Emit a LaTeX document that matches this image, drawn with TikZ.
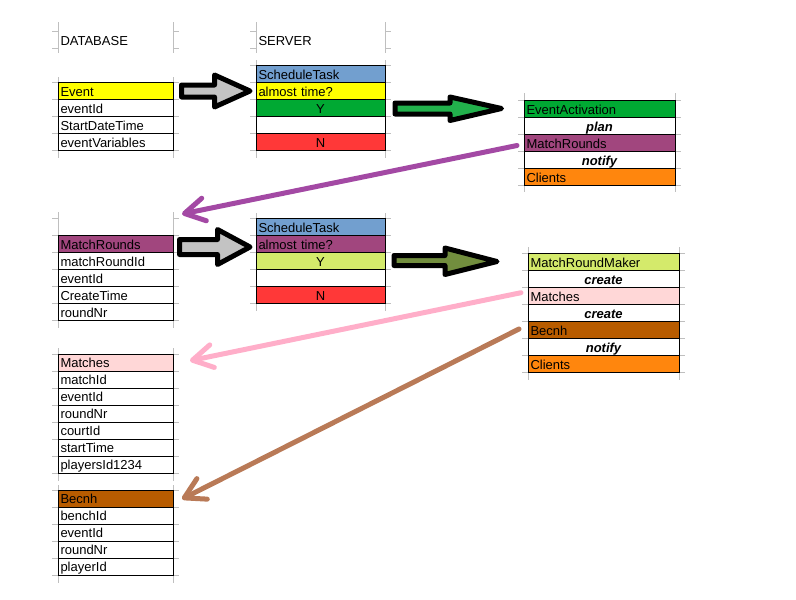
\documentclass[tikz,border=0pt]{standalone}
\usepackage{fontspec}
\setmainfont{Liberation Sans}
\usetikzlibrary{positioning, arrows.meta}

\definecolor{eventYellow}{HTML}{FFFF00}
\definecolor{taskBlue}{HTML}{729FCF}
\definecolor{yesGreen}{HTML}{00A933}
\definecolor{noRed}{HTML}{FF3838}
\definecolor{roundsPurple}{HTML}{A1467E}
\definecolor{clientsOrange}{HTML}{FF860D}
\definecolor{makerLime}{HTML}{D4EA6B}
\definecolor{matchesPink}{HTML}{FFD7D7}
\definecolor{benchBrown}{HTML}{B85C00}
\definecolor{pushGray}{HTML}{C3C3C3}
\definecolor{pushGreen}{HTML}{22B14C}
\definecolor{pushOlive}{HTML}{728E3E}
\definecolor{linkPurple}{HTML}{A349A4}
\definecolor{linkPink}{HTML}{FFAEC9}
\definecolor{linkBrown}{HTML}{B97A57}

\tikzstyle{cellBox} = [shape=rectangle, draw=black, line width=0.9pt, text=black, fill=white,
	inner xsep=2.5pt, inner ysep=1pt, outer sep=0pt, minimum height=17pt,
	text height=11.5pt, text depth=1pt, font=\fontsize{13}{15}\selectfont]
\tikzstyle{DbBox} = [cellBox, minimum width=115pt, text width=110pt, align=left]
\tikzstyle{SrvBox} = [cellBox, minimum width=129pt, text width=124pt, align=left]
\tikzstyle{ActBox} = [cellBox, minimum width=151pt, text width=146pt, align=left]
\tikzstyle{midText} = [align=center]
\tikzstyle{verbBox} = [align=center, font=\fontsize{13}{15}\selectfont\bfseries\itshape]
\tikzstyle{labelBox} = [cellBox, draw=none, fill=none, anchor=north west]
\tikzstyle{gridLine} = [draw=black!25, line width=0.8pt]
\tikzstyle{pushArrow} = [draw=black, line width=5pt, line join=round]
\tikzstyle{linkArrow} = [line width=5pt, line cap=round,
	-{Straight Barb[length=20pt, width=23pt, round]}]

\begin{document}
\begin{tikzpicture}[x=1pt, y=-1pt, node distance=0pt]
	\useasboundingbox (0,0) rectangle (796,600);

	% spreadsheet grid
	\foreach \xl/\xr/\ytop/\rows/\ya/\yb in {
		58/173/31/1/22/53, 256/385/31/1/22/53,
		58/173/82.5/4/77/158, 256/385/65.5/5/60/158, 524/675/100.5/5/93/192,
		58/173/218.5/6/212/328, 256/385/218.5/5/213/311, 528/679/253.5/7/247/380,
		58/173/354/7/348/481, 58/173/490/5/485/583} {
		\draw[gridLine] (\xl,\ya) -- (\xl,\yb) (\xr,\ya) -- (\xr,\yb);
		\foreach \k in {0,...,\rows}
			\draw[gridLine] (\xl-6,\ytop+17*\k) -- (\xl,\ytop+17*\k)
				(\xr,\ytop+17*\k) -- (\xr+6,\ytop+17*\k);
	}

	\node (DbTitle) [labelBox] at (58,31.5) {DATABASE};
	\node (SrvTitle) [labelBox] at (256,31.5) {SERVER};

	% database
	\node (Event) [DbBox, fill=eventYellow, anchor=north west] at (58,82.5) {Event};
	\node (EventId) [DbBox, below=of Event] {eventId};
	\node (StartDT) [DbBox, below=of EventId] {StartDateTime};
	\node (EventVars) [DbBox, below=of StartDT] {eventVariables};

	\node (Rounds) [DbBox, fill=roundsPurple, anchor=north west] at (58,235.5) {MatchRounds};
	\node (RoundsId) [DbBox, below=of Rounds] {matchRoundId};
	\node (RoundsEvent) [DbBox, below=of RoundsId] {eventId};
	\node (RoundsTime) [DbBox, below=of RoundsEvent] {CreateTime};
	\node (RoundsNr) [DbBox, below=of RoundsTime] {roundNr};

	\node (Matches) [DbBox, fill=matchesPink, anchor=north west] at (58,354) {Matches};
	\node (MatchId) [DbBox, below=of Matches] {matchId};
	\node (MatchEvent) [DbBox, below=of MatchId] {eventId};
	\node (MatchNr) [DbBox, below=of MatchEvent] {roundNr};
	\node (MatchCourt) [DbBox, below=of MatchNr] {courtId};
	\node (MatchStart) [DbBox, below=of MatchCourt] {startTime};
	\node (MatchPlayers) [DbBox, below=of MatchStart] {playersId1234};

	\node (Bench) [DbBox, fill=benchBrown, anchor=north west] at (58,490) {Becnh};
	\node (BenchId) [DbBox, below=of Bench] {benchId};
	\node (BenchEvent) [DbBox, below=of BenchId] {eventId};
	\node (BenchNr) [DbBox, below=of BenchEvent] {roundNr};
	\node (BenchPlayer) [DbBox, below=of BenchNr] {playerId};

	% server
	\node (Task1) [SrvBox, fill=taskBlue, anchor=north west] at (256,65.5) {ScheduleTask};
	\node (Time1) [SrvBox, fill=eventYellow, below=of Task1] {almost time?};
	\node (Yes1) [SrvBox, midText, fill=yesGreen, below=of Time1] {Y};
	\node (Gap1) [SrvBox, below=of Yes1] {};
	\node (No1) [SrvBox, midText, fill=noRed, below=of Gap1] {N};

	\node (Task2) [SrvBox, fill=taskBlue, anchor=north west] at (256,218.5) {ScheduleTask};
	\node (Time2) [SrvBox, fill=roundsPurple, below=of Task2] {almost time?};
	\node (Yes2) [SrvBox, midText, fill=makerLime, below=of Time2] {Y};
	\node (Gap2) [SrvBox, below=of Yes2] {};
	\node (No2) [SrvBox, midText, fill=noRed, below=of Gap2] {N};

	\node (Act) [ActBox, fill=yesGreen, anchor=north west] at (524,100.5) {EventActivation};
	\node (ActPlan) [ActBox, verbBox, below=of Act] {plan};
	\node (ActRounds) [ActBox, fill=roundsPurple, below=of ActPlan] {MatchRounds};
	\node (ActNotify) [ActBox, verbBox, below=of ActRounds] {notify};
	\node (ActClients) [ActBox, fill=clientsOrange, below=of ActNotify] {Clients};

	\node (Maker) [ActBox, fill=makerLime, anchor=north west] at (528,253.5) {MatchRoundMaker};
	\node (MakerCreate) [ActBox, verbBox, below=of Maker] {create};
	\node (MakerMatches) [ActBox, fill=matchesPink, below=of MakerCreate] {Matches};
	\node (MakerCreate2) [ActBox, verbBox, below=of MakerMatches] {create};
	\node (MakerBench) [ActBox, fill=benchBrown, below=of MakerCreate2] {Becnh};
	\node (MakerNotify) [ActBox, verbBox, below=of MakerBench] {notify};
	\node (MakerClients) [ActBox, fill=clientsOrange, below=of MakerNotify] {Clients};

	% block arrows
	\draw[pushArrow, fill=pushGray, shift={(Event.east)}] (8.5,-6) -- (41.5,-6) -- (41.5,-16)
		-- (77,0) -- (41.5,16) -- (41.5,6) -- (8.5,6) -- cycle;
	\draw[pushArrow, fill=pushGreen, shift={(Yes1.east)}] (10,-5) -- (65,-5) -- (65,-11)
		-- (116.5,0.5) -- (65,12.5) -- (65,6) -- (10,6) -- cycle;
	\draw[pushArrow, fill=pushGray, shift={(Rounds.east)}] (6.5,-4.5) -- (44.5,-4.5) -- (44.5,-14.5)
		-- (77,3) -- (44.5,20.5) -- (44.5,10.5) -- (6.5,10.5) -- cycle;
	\draw[pushArrow, fill=pushOlive, shift={(Yes2.east)}] (9,-5.5) -- (60,-5.5) -- (60,-13)
		-- (112,0.5) -- (60,13.5) -- (60,4.5) -- (9,4.5) -- cycle;

	% hand drawn links
	\draw[linkArrow, linkPurple] ([xshift=-7pt, yshift=-2.5pt]ActRounds.west)
		-- ([xshift=9pt, yshift=21.5pt]Rounds.north east);
	\draw[linkArrow, linkPink] ([xshift=-7pt, yshift=3.3pt]MakerMatches.west)
		-- ([xshift=17pt, yshift=1.8pt]Matches.east);
	\draw[linkArrow, linkBrown] ([xshift=-9pt, yshift=1pt]MakerBench.west)
		-- ([xshift=9pt, yshift=-0.5pt]Bench.east);
\end{tikzpicture}
\end{document}
